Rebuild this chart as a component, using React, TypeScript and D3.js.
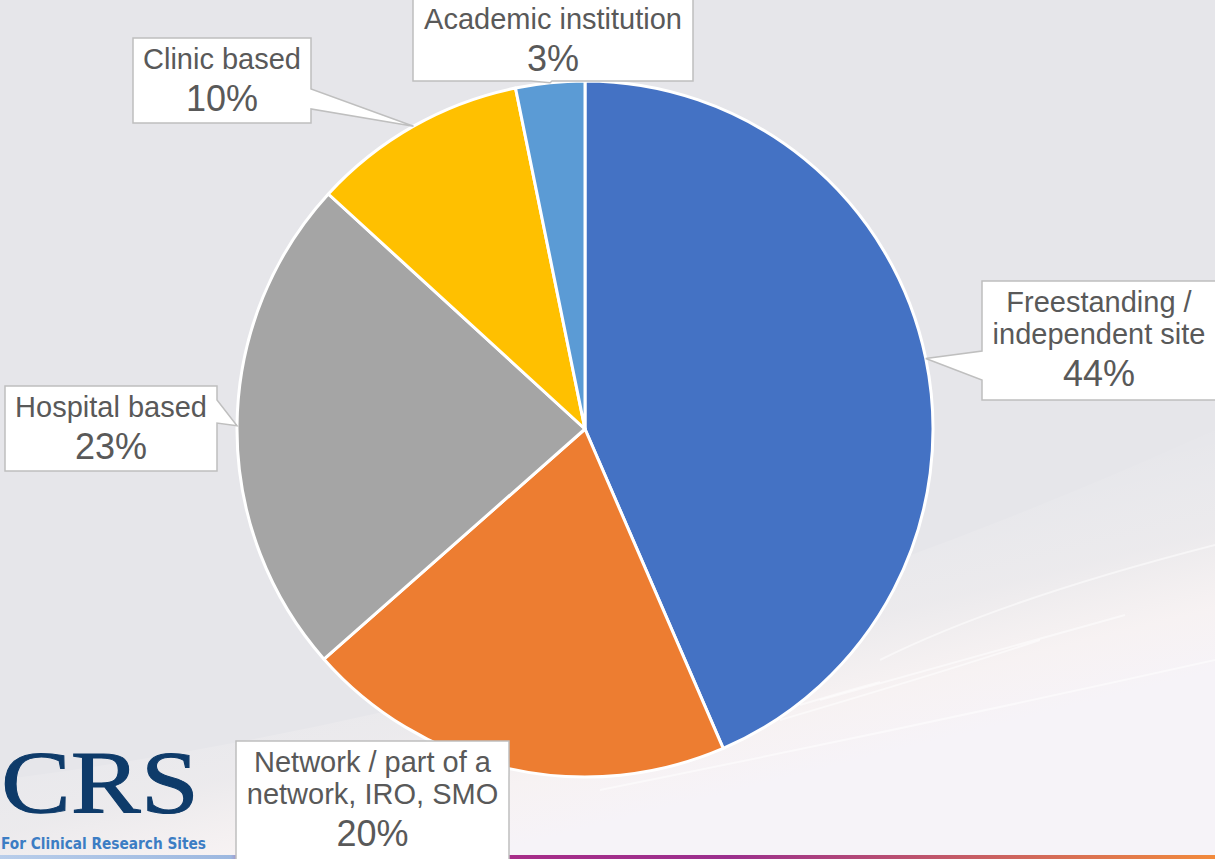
import * as d3 from 'd3'

// slice shares (percent), clockwise from 12 o'clock
const categories = ['Freestanding / independent site', 'Network / part of a network, IRO, SMO', 'Hospital based', 'Clinic based', 'Academic institution']
const labelLines = [['Freestanding /', 'independent site'], ['Network / part of a', 'network, IRO, SMO'], ['Hospital based'], ['Clinic based'], ['Academic institution']]
const shares = [43.5, 20.0, 23.3, 10.0, 3.2]
const colors = ['#4472C4', '#ED7D31', '#A5A5A5', '#FFC000', '#5B9BD5']

const W = 1215
const H = 859
const cx = 585
const cy = 429
const r = 348

// callout boxes: x, y, w, h, side the pointer leaves from, pointer base (two coords along that side)
const boxes = [
    { x: 982, y: 281, w: 234, h: 119, side: 'left', a: 351, b: 380 },
    { x: 236, y: 741, w: 273, h: 125, side: 'right', a: 758, b: 778 },
    { x: 5, y: 386, w: 212, h: 85, side: 'right', a: 400, b: 423 },
    { x: 133, y: 38, w: 178, h: 85, side: 'right', a: 89, b: 109 },
    { x: 413, y: -2, w: 280, h: 83, side: 'bottom', a: 531, b: 552 },
]

function calloutPath(bx: any, tx: number, ty: number) {
    const { x, y, w, h, side, a, b } = bx
    if (side === 'right') return `M${x},${y}H${x + w}V${a}L${tx},${ty}L${x + w},${b}V${y + h}H${x}Z`
    if (side === 'left') return `M${x},${y}H${x + w}V${y + h}H${x}V${b}L${tx},${ty}L${x},${a}Z`
    return `M${x},${y}H${x + w}V${y + h}H${b}L${tx},${ty}L${a},${y + h}H${x}Z`
}

export default function App() {
    const pie = d3.pie<number>().sort(null).value(d => d)
    const arcs = pie(shares)
    const arc = d3.arc<d3.PieArcDatum<number>>().innerRadius(0).outerRadius(r)
    const fmt = d3.format('.0f')

    return (
        <svg width={W} height={H} style={{ position: 'absolute', left: 0, top: 0, display: 'block' }}>
            <defs>
                <linearGradient id="glow" gradientUnits="userSpaceOnUse" x1="640" y1="560" x2="700" y2="800">
                    <stop offset="0" stopColor="#ffffff" stopOpacity="0" />
                    <stop offset="0.45" stopColor="#fdf7f5" stopOpacity="0.25" />
                    <stop offset="0.75" stopColor="#fbf5f5" stopOpacity="0.8" />
                    <stop offset="1" stopColor="#f6f3f8" stopOpacity="1" />
                </linearGradient>
                <linearGradient id="bar" x1="0" y1="0" x2="1" y2="0">
                    <stop offset="0" stopColor="#b8cdea" />
                    <stop offset="0.19" stopColor="#9db8e0" />
                    <stop offset="0.21" stopColor="#b52a83" />
                    <stop offset="0.6" stopColor="#9b2f8e" />
                    <stop offset="1" stopColor="#f28a3c" />
                </linearGradient>
            </defs>
            <rect width={W} height={H} fill="#E6E6EA" />
            <path d={`M0,${H}L0,780Q620,700 ${W},430L${W},${H}Z`} fill="url(#glow)" />
            <g stroke="#ffffff" strokeOpacity={0.5} strokeWidth={2} fill="none">
                <path d="M1215,545Q1000,600 880,660" />
                <path d="M1125,615Q1000,650 820,700" />
                <path d="M1040,640Q950,670 780,720" />
                <path d="M880,682Q850,690 800,705" />
                <path d="M1215,660Q900,730 600,790" />
            </g>
            <rect x={0} y={855} width={W} height={4} fill="url(#bar)" />

            <g transform={`translate(${cx},${cy})`}>
                {arcs.map((d, i) => (
                    <path key={categories[i]} d={arc(d) as string} fill={colors[i]} stroke="#ffffff" strokeWidth={3} strokeLinejoin="round" />
                ))}
            </g>

            {arcs.map((d, i) => {
                const mid = (d.startAngle + d.endAngle) / 2
                const tx = cx + r * Math.sin(mid)
                const ty = cy - r * Math.cos(mid)
                const bx = boxes[i]
                const mx = bx.x + bx.w / 2
                const lines = labelLines[i]
                return (
                    <g key={categories[i]}>
                        <path d={calloutPath(bx, tx, ty)} fill="#ffffff" stroke="#BFBFBF" strokeWidth={1.5} />
                        <g fontFamily="'Liberation Sans', Arial, sans-serif" fill="#595959" textAnchor="middle">
                            {lines.map((t, j) => (
                                <text key={t} x={mx} y={bx.y + 31 + j * 32} fontSize={29}>{t}</text>
                            ))}
                            <text x={mx} y={bx.y + 31 + (lines.length - 1) * 32 + 42} fontSize={36}>{fmt(d.data) + '%'}</text>
                        </g>
                    </g>
                )
            })}

            <text x={1} y={812} fontFamily="'Liberation Serif', 'Times New Roman', serif" fontSize={88} fill="#0E3B6A" stroke="#0E3B6A" strokeWidth={1} textLength={198} lengthAdjust="spacingAndGlyphs">CRS</text>
            <text x={1} y={849} fontFamily="'DejaVu Sans', sans-serif" fontWeight="bold" fontSize={15} fill="#3C7DC4" textLength={205} lengthAdjust="spacingAndGlyphs">For Clinical Research Sites</text>
        </svg>
    )
}
